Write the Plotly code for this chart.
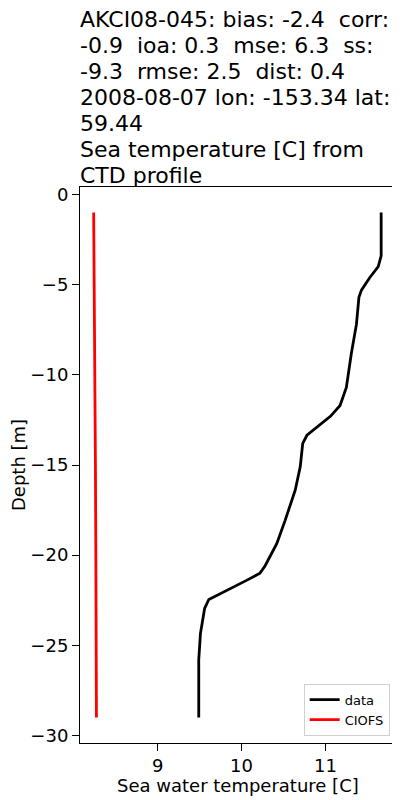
import plotly.graph_objects as go

# ---- data ----
obs_depth = [-1.0, -3.4, -4.0, -4.6, -5.3, -5.7, -7.2, -8.8, -10.7, -11.3, -11.7, -12.3,
             -13.35, -13.8, -15.1, -16.4, -17.3, -18.07, -19.36, -20.6, -21.0, -21.4,
             -22.46, -22.96, -24.35, -25.8, -29.0]
obs_temp = [11.665, 11.665, 11.63, 11.53, 11.43, 11.40, 11.37, 11.31, 11.25, 11.21, 11.175, 11.06,
            10.78, 10.73, 10.70, 10.64, 10.58, 10.52, 10.42, 10.28, 10.22, 10.06,
            9.61, 9.56, 9.51, 9.49, 9.49]
model_depth = [-1, -5, -10, -15, -20, -25, -29]
model_temp = [8.237, 8.245, 8.252, 8.258, 8.263, 8.267, 8.27]

title_lines = [
    "AKCI08-045: bias: -2.4  corr:",
    "-0.9  ioa: 0.3  mse: 6.3  ss:",
    "-9.3  rmse: 2.5  dist: 0.4",
    "2008-08-07 lon: -153.34 lat:",
    "59.44",
    "Sea temperature [C] from",
    "CTD profile",
]
x_title = "Sea water temperature [C]"
y_title = "Depth [m]"
x_ticks = [9, 10, 11]
y_ticks = [0, -5, -10, -15, -20, -25, -30]
y_ticklabels = ["0", "\u22125", "\u221210", "\u221215", "\u221220", "\u221225", "\u221230"]

FONT = "DejaVu Sans"

fig = go.Figure()
fig.add_trace(go.Scatter(x=obs_temp, y=obs_depth, mode="lines", name="data",
                         line=dict(color="black", width=2.8)))
fig.add_trace(go.Scatter(x=model_temp, y=model_depth, mode="lines", name="CIOFS",
                         line=dict(color="red", width=2.8)))

# the page body has an 8px margin, so the figure is 8px smaller and offset
OFF = 8
W, H = 400 - OFF, 800 - OFF
L, R, T, B = 80 - OFF, 4, 187 - OFF, 57
ph = H - T - B
pw = W - L - R

annotations = []
for i, txt in enumerate(title_lines):
    py = 19.5 + 26.0 * i - OFF
    annotations.append(dict(text=txt, xref="paper", yref="paper", x=0, y=(H - B - py) / ph,
                            xanchor="left", yanchor="middle", showarrow=False, xshift=-2,
                            font=dict(family=FONT, size=22, color="black")))
# axis titles
annotations.append(dict(text=x_title, xref="paper", yref="paper", x=0.5,
                        y=(H - B - (785 - OFF)) / ph, xanchor="center", yanchor="middle",
                        showarrow=False, font=dict(family=FONT, size=18, color="black")))
annotations.append(dict(text=y_title, xref="paper", yref="paper",
                        x=((18 - OFF) - L) / pw, y=0.5, textangle=-90,
                        xanchor="center", yanchor="middle",
                        showarrow=False, font=dict(family=FONT, size=18, color="black")))

fig.update_layout(
    width=W, height=H,
    margin=dict(l=L, r=R, t=T, b=B, autoexpand=False),
    paper_bgcolor="white", plot_bgcolor="white",
    font=dict(family=FONT, size=18, color="black"),
    annotations=annotations,
    showlegend=True,
    legend=dict(x=0.98, y=0.013, xanchor="right", yanchor="bottom",
                bgcolor="white", bordercolor="#d0d0d0", borderwidth=1,
                font=dict(family=FONT, size=13, color="black"),
                itemwidth=30, tracegroupgap=0),
    xaxis=dict(range=[8.074, 11.842], tickvals=x_ticks, ticks="outside", ticklen=7,
               tickwidth=1.1, tickcolor="black", showline=True, linecolor="black",
               linewidth=1.1, mirror=True, showgrid=False, zeroline=False,
               ticklabelstandoff=-1, automargin=False),
    yaxis=dict(range=[-30.42, 0.42], tickvals=y_ticks, ticktext=y_ticklabels,
               ticks="outside", ticklen=7, tickwidth=1.1, tickcolor="black",
               showline=True, linecolor="black", linewidth=1.1, mirror=True,
               showgrid=False, zeroline=False, automargin=False),
)

fig.write_html("out.html")
